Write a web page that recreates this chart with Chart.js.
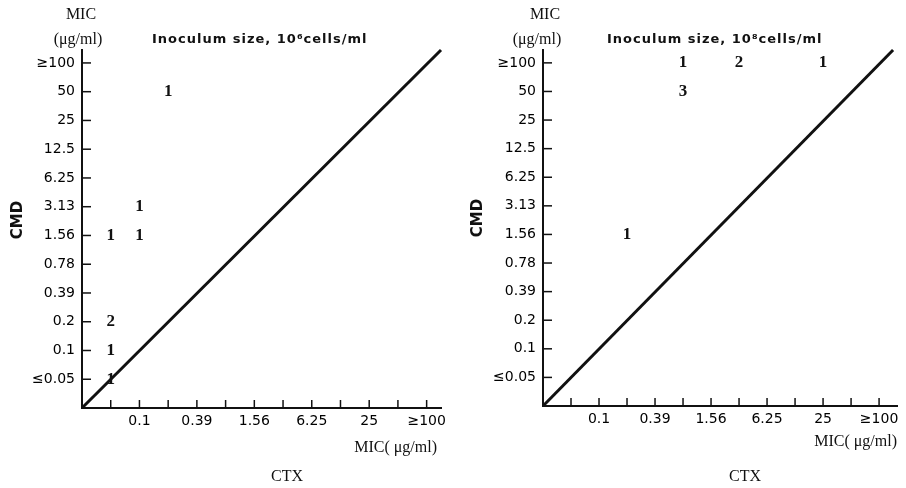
<!DOCTYPE html>
<html>
<head>
<meta charset="utf-8">
<script src="https://cdn.jsdelivr.net/npm/chart.js@4"></script>
<style>
  html, body { margin: 0; padding: 0; background: #fff; }
  #wrap { display: flex; width: 906px; height: 488px; }
  canvas { display: block; }
</style>
</head>
<body>
<div id="wrap">
  <canvas id="left" width="453" height="488"></canvas>
  <canvas id="right" width="453" height="488"></canvas>
</div>
<script>
// MIC dilution steps, shared by both axes (index 1..12 on the chart)
const micLevels = ['≤0.05', '0.1', '0.2', '0.39', '0.78', '1.56', '3.13', '6.25', '12.5', '25', '50', '≥100'];

// left panel: inoculum 10^6 cells/ml
const leftCTX = ['0.2', '0.1', '≤0.05', '0.1', '≤0.05', '≤0.05', '≤0.05'];
const leftCMD = ['50', '3.13', '1.56', '1.56', '0.2', '0.1', '≤0.05'];
const leftCounts = [1, 1, 1, 1, 2, 1, 1];

// right panel: inoculum 10^8 cells/ml
const rightCTX = ['0.78', '3.13', '25', '0.78', '0.2'];
const rightCMD = ['≥100', '≥100', '≥100', '50', '1.56'];
const rightCounts = [1, 2, 1, 3, 1];

// identity line CMD = CTX
const diagX = [0, 12.5];
const diagY = [0, 12.45];

const levelIndex = label => micLevels.indexOf(label) + 1;

const panelText = {
  id: 'panelText',
  afterDraw(chart, args, opts) {
    const ctx = chart.ctx;
    const { left, bottom } = chart.chartArea;
    const xs = chart.scales.x, ys = chart.scales.y;
    ctx.save();

    // tick marks point inward
    ctx.strokeStyle = '#111';
    ctx.lineWidth = 1.5;
    for (let i = 1; i <= micLevels.length; i++) {
      const px = xs.getPixelForValue(i);
      ctx.beginPath(); ctx.moveTo(px, bottom); ctx.lineTo(px, bottom - 8); ctx.stroke();
      const py = ys.getPixelForValue(i);
      ctx.beginPath(); ctx.moveTo(left, py); ctx.lineTo(left + 9, py); ctx.stroke();
    }

    // strain counts at each point
    ctx.fillStyle = '#111';
    ctx.textAlign = 'center';
    ctx.textBaseline = 'middle';
    ctx.font = 'bold 17px "Liberation Serif"';
    chart.getDatasetMeta(1).data.forEach((pt, i) => {
      ctx.fillText(String(opts.counts[i]), pt.x, pt.y);
    });

    const p = opts.pos;
    ctx.font = '16px "Liberation Serif"';
    ctx.fillText('MIC', p.mic[0], p.mic[1]);
    ctx.fillText('(μg/ml)', p.unit[0], p.unit[1]);
    ctx.fillText('CTX', p.ctx[0], p.ctx[1]);
    ctx.textAlign = 'right';
    ctx.fillText('MIC( μg/ml)', p.xTitle[0], p.xTitle[1]);

    ctx.textAlign = 'left';
    ctx.font = 'bold 13px "DejaVu Sans"';
    ctx.letterSpacing = '1px';
    ctx.fillText('Inoculum size, ' + opts.inoculum + 'cells/ml', p.inoc[0], p.inoc[1]);
    ctx.letterSpacing = '0px';

    ctx.translate(p.cmd[0], p.cmd[1]);
    ctx.rotate(-Math.PI / 2);
    ctx.textAlign = 'center';
    ctx.font = 'bold 15px "DejaVu Sans"';
    ctx.fillText('CMD', 0, 0);
    ctx.restore();
  }
};

function buildPanel(id, ctxVals, cmdVals, counts, inoculum, geo, pos) {
  const points = ctxVals.map((c, i) => ({ x: levelIndex(c), y: levelIndex(cmdVals[i]) }));
  const tickFont = { family: 'DejaVu Sans', size: 14 };
  return new Chart(document.getElementById(id), {
    type: 'scatter',
    data: {
      datasets: [
        {
          type: 'line',
          data: diagX.map((x, i) => ({ x, y: diagY[i] })),
          borderColor: '#111',
          borderWidth: 3,
          pointRadius: 0,
          clip: false
        },
        { data: points, pointRadius: 0, pointHoverRadius: 0 }
      ]
    },
    options: {
      responsive: false,
      animation: false,
      devicePixelRatio: 1,
      layout: { padding: { top: geo.top, right: 453 - geo.right, left: 0, bottom: 0 } },
      plugins: {
        legend: { display: false },
        tooltip: { enabled: false },
        panelText: { counts, inoculum, pos }
      },
      scales: {
        x: {
          type: 'linear',
          min: 0,
          max: geo.xMax,
          grid: { display: false, drawTicks: false },
          border: { color: '#111', width: 2 },
          afterBuildTicks: s => { s.ticks = micLevels.map((_, i) => ({ value: i + 1 })); },
          afterFit: s => { s.height = 488 - geo.bottom; },
          ticks: {
            autoSkip: false,
            maxRotation: 0,
            padding: 5,
            color: '#000',
            font: tickFont,
            callback: v => (v % 2 === 0 ? micLevels[v - 1] : '')
          }
        },
        y: {
          type: 'linear',
          min: 0,
          max: geo.yMax,
          grid: { display: false, drawTicks: false },
          border: { color: '#111', width: 2 },
          afterBuildTicks: s => { s.ticks = micLevels.map((_, i) => ({ value: i + 1 })); },
          afterFit: s => { s.width = geo.left; },
          ticks: {
            autoSkip: false,
            padding: 7,
            color: '#000',
            font: tickFont,
            callback: v => micLevels[v - 1]
          }
        }
      }
    },
    plugins: [panelText]
  });
}

buildPanel('left', leftCTX, leftCMD, leftCounts, '10⁶',
  { left: 82, right: 441, top: 50, bottom: 408, xMax: 12.5, yMax: 12.45 },
  { mic: [81, 15], unit: [78, 40], inoc: [152, 40], cmd: [18, 220], xTitle: [437, 448], ctx: [287, 477] });

buildPanel('right', rightCTX, rightCMD, rightCounts, '10⁸',
  { left: 90, right: 444, top: 50, bottom: 406, xMax: 12.64, yMax: 12.45 },
  { mic: [92, 15], unit: [84, 40], inoc: [154, 40], cmd: [25, 218], xTitle: [444, 442], ctx: [292, 477] });
</script>
</body>
</html>
